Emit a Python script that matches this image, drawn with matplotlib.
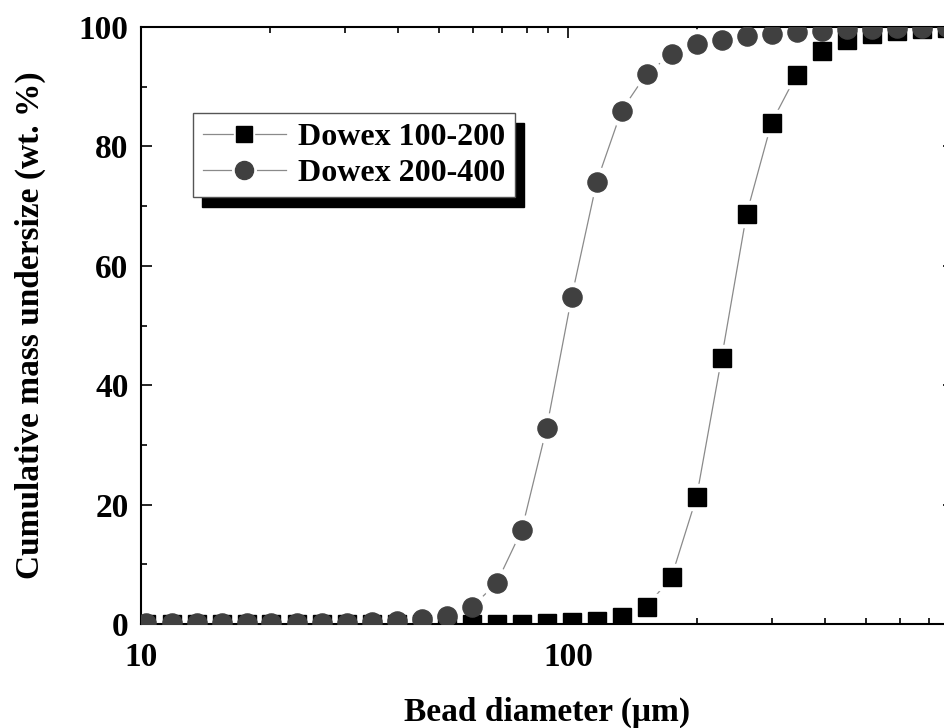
import numpy as np
import matplotlib
matplotlib.use("Agg")
import matplotlib.pyplot as plt
from matplotlib.lines import Line2D
from matplotlib.legend_handler import HandlerTuple
from matplotlib.patches import Rectangle
from matplotlib.ticker import MultipleLocator, LogLocator, NullFormatter, FixedFormatter, FixedLocator

# bead diameters (um)
diam = [10.3, 11.8, 13.5, 15.45, 17.7, 20.2, 23.15, 26.5, 30.3, 34.7, 39.7,
        45.4, 52.0, 59.5, 68.1, 77.9, 89.1, 102.0, 116.7, 133.5, 152.8,
        174.8, 200.1, 228.9, 262.0, 299.8, 343.0, 392.5, 449.2, 514.0,
        588.2, 673.1, 770.2]

# cumulative mass undersize (wt. %)
dowex_100_200 = [0.0, 0.0, 0.0, 0.0, 0.0, 0.0, 0.0, 0.0, 0.0, 0.0, 0.0,
                 0.0, 0.0, 0.0, 0.0, 0.0, 0.1, 0.3, 0.5, 1.2, 2.9,
                 7.9, 21.3, 44.5, 68.7, 84.0, 92.0, 96.0, 97.8, 98.9,
                 99.3, 99.6, 99.8]
dowex_200_400 = [0.2, 0.2, 0.2, 0.2, 0.2, 0.2, 0.2, 0.2, 0.2, 0.3, 0.5,
                 0.8, 1.3, 2.8, 6.9, 15.7, 32.8, 54.8, 74.0, 86.0, 92.2,
                 95.4, 97.1, 97.9, 98.5, 98.9, 99.1, 99.4, 99.6, 99.7,
                 99.8, 99.9, 100.0]
labels = ["Dowex 100-200", "Dowex 200-400"]

plt.rcParams['font.family'] = ['Liberation Serif', 'DejaVu Serif']
plt.rcParams['font.weight'] = 'bold'

W, H = 944, 728
fig = plt.figure(figsize=(W / 100, H / 100), dpi=100)
# axes in pixel terms: left 141, right ~953, top 27, bottom 624
ax = fig.add_axes([141 / W, (H - 624) / H, (953.6 - 141) / W, (624 - 27) / H])

line_c = '#8a8a8a'
sq_c = 'black'
ci_c = '#404040'

# thin connecting lines, then white halos to make the gaps, then the markers
ax.plot(diam, dowex_100_200, color=line_c, lw=0.9, zorder=1)
ax.plot(diam, dowex_200_400, color=line_c, lw=0.9, zorder=1)
ax.plot(diam, dowex_100_200, ls='none', marker='s', ms=19, color='white', zorder=2)
ax.plot(diam, dowex_200_400, ls='none', marker='o', ms=21, color='white', zorder=2)
ax.plot(diam, dowex_100_200, ls='none', marker='s', ms=12.5, color=sq_c, zorder=3)
ax.plot(diam, dowex_200_400, ls='none', marker='o', ms=13.8, color=ci_c, zorder=4)

ax.set_xscale('log')
ax.set_xlim(10, 800)
ax.set_ylim(0, 100)

ax.xaxis.set_major_locator(FixedLocator([10, 100, 1000]))
ax.xaxis.set_major_formatter(FixedFormatter(['10', '100', '1000']))
ax.xaxis.set_minor_locator(LogLocator(base=10, subs=np.arange(2, 10)))
ax.xaxis.set_minor_formatter(NullFormatter())
ax.yaxis.set_major_locator(MultipleLocator(20))
ax.yaxis.set_minor_locator(MultipleLocator(10))

for s in ax.spines.values():
    s.set_linewidth(1.5)
ax.tick_params(which='both', direction='in', top=True, right=True, width=1.2)
ax.tick_params(which='major', length=8)
ax.tick_params(which='minor', length=4.5)
ax.tick_params(axis='x', which='major', pad=13, labelsize=24)
ax.tick_params(axis='y', which='major', pad=9, labelsize=24)
for t in ax.get_xticklabels() + ax.get_yticklabels():
    t.set_fontweight('bold')

ax.set_xlabel('Bead diameter (\u03bcm)', fontsize=24, fontweight='bold')
ax.set_ylabel('Cumulative mass undersize (wt. %)', fontsize=24, fontweight='bold')
ax.xaxis.set_label_coords(0.5, -0.122)
ax.yaxis.set_label_coords(-0.117, 0.5)

# legend with line - marker - line handles
def entry(marker, color, ms):
    return (Line2D([], [], color=line_c, lw=0.9),
            Line2D([], [], ls='none', marker=marker, ms=ms + 4, color='white'),
            Line2D([], [], ls='none', marker=marker, ms=ms, color=color))

handles = [entry('s', sq_c, 11), entry('o', ci_c, 13)]
leg = fig.legend(handles, labels, loc='upper left',
                 bbox_to_anchor=(193 / W, 1 - 113 / H), bbox_transform=fig.transFigure,
                 borderaxespad=0, fontsize=23, handlelength=2.6, handletextpad=0.4,
                 labelspacing=0.2, borderpad=0.3, fancybox=False, framealpha=1,
                 edgecolor='#555555', handler_map={tuple: HandlerTuple(ndivide=1)})
leg.get_frame().set_linewidth(1.0)
leg.set_zorder(10)
for t in leg.get_texts():
    t.set_fontweight('bold')

# solid black drop shadow behind the legend box
fig.canvas.draw()
bb = leg.get_window_extent()
fig.add_artist(Rectangle(((bb.x0 + 9) / W, (bb.y0 - 10) / H), bb.width / W, bb.height / H,
                         transform=fig.transFigure, color='black', zorder=9))

fig.savefig('out.png', dpi=100)
